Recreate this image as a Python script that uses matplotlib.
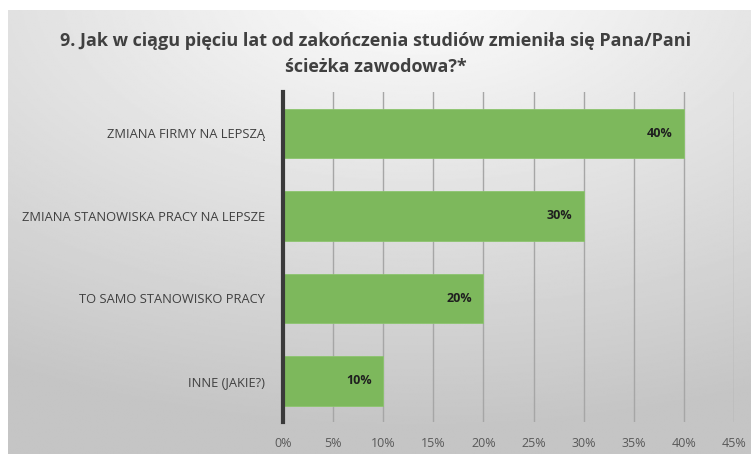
import numpy as np
import matplotlib.pyplot as plt
from matplotlib.ticker import MultipleLocator, FuncFormatter

plt.rcParams['font.family'] = ['Open Sans', 'DejaVu Sans']

categories = ['ZMIANA FIRMY NA LEPSZĄ', 'ZMIANA STANOWISKA PRACY NA LEPSZE',
              'TO SAMO STANOWISKO PRACY', 'INNE (JAKIE?)']
values = [0.40, 0.30, 0.20, 0.10]
title = '9. Jak w ciągu pięciu lat od zakończenia studiów zmieniła się Pana/Pani\nścieżka zawodowa?*'

fig = plt.figure(figsize=(7.51, 4.54), dpi=100)
fig.patch.set_facecolor('white')

# gradient background (light at top centre, grey towards the edges)
bg = fig.add_axes([8 / 751, 0, 1 - 8 / 751, 1 - 10 / 454], zorder=0)
yy, xx = np.mgrid[0:1:300j, 0:1:500j]
dist = np.sqrt(((xx - 0.55) * 1.0) ** 2 + ((yy - 1.05) * 1.1) ** 2)
shade = 0.99 - 0.2 * np.clip(dist, 0, 1.1)
bg.imshow(shade, cmap='gray', vmin=0, vmax=1, origin='lower', aspect='auto',
          extent=[0, 1, 0, 1])
bg.axis('off')

ax = fig.add_axes([283 / 751, 1 - 422 / 454, (734 - 283) / 751, (422 - 92) / 454], zorder=1)
ax.patch.set_alpha(0)

y = np.arange(len(categories))
ax.barh(y, values, height=0.6, color='#7db85c', edgecolor='#8cc46e', linewidth=0.6, zorder=3)
for yi, v in zip(y, values):
    ax.text(v - 0.011, yi, f'{v:.0%}', ha='right', va='center', fontsize=9,
            fontweight='bold', color='#1f1f1f', zorder=4)

ax.set_xlim(0, 0.45)
ax.set_ylim(len(categories) - 0.5, -0.5)
ax.set_yticks(y)
ax.set_yticklabels(categories, fontsize=9.3, color='#404040')
ax.xaxis.set_major_locator(MultipleLocator(0.05))
ax.xaxis.set_major_formatter(FuncFormatter(lambda v, p: f'{v:.0%}'))
ax.tick_params(axis='x', labelsize=9, labelcolor='#595959', length=0, pad=11)
ax.tick_params(axis='y', length=0, pad=13)
ax.grid(axis='x', color='#a6a6a6', linewidth=1, zorder=1)
for s in ['top', 'right', 'bottom']:
    ax.spines[s].set_visible(False)
ax.spines['left'].set_color('#3a3a3a')
ax.spines['left'].set_linewidth(3)
ax.spines['left'].set_zorder(5)

fig.text(0.5, 1 - 54 / 454, title, ha='center', va='center', fontsize=13,
         fontweight='bold', color='#404040', linespacing=1.55)

fig.savefig('out.png', dpi=100)
